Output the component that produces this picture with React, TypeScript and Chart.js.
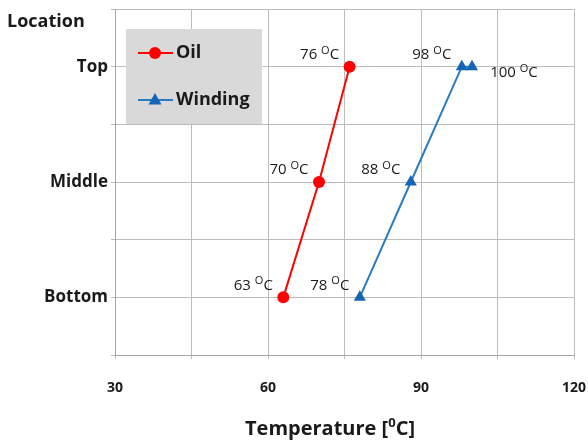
import { useEffect, useRef } from 'react';
import { Chart, registerables } from 'chart.js';
Chart.register(...registerables);

const locations = ['Bottom', 'Middle', 'Top'];
const oilLocations = ['Bottom', 'Middle', 'Top'];
const oilTemps = [63, 70, 76];
const windingLocations = ['Bottom', 'Middle', 'Top', 'Top'];
const windingTemps = [78, 88, 98, 100];
const xTickLabels = [30, 60, 90, 120];
const seriesNames = ['Oil', 'Winding'];

const oilLabelSide = ['left', 'left', 'left'];
const windingLabelSide = ['left', 'left', 'left', 'right'];

const RED = '#ff0000';
const BLUE_LINE = '#2b7bbf';
const BLUE_MARK = '#1565b5';
const FONT = '"Open Sans", "Liberation Sans", sans-serif';
const TEXT = '#1a1a1a';

const locY = (loc: string) => 2 * locations.indexOf(loc) + 1;

function drawTempLabel(ctx: CanvasRenderingContext2D, cx: number, cy: number, v: number) {
  const num = `${v} `;
  ctx.font = `15px ${FONT}`;
  const w1 = ctx.measureText(num).width;
  const wC = ctx.measureText('C').width;
  ctx.font = `11px ${FONT}`;
  const wO = ctx.measureText('O').width;
  const total = w1 + wO + wC;
  let x = cx - total / 2;
  ctx.fillStyle = TEXT;
  ctx.textBaseline = 'middle';
  ctx.textAlign = 'left';
  ctx.font = `15px ${FONT}`;
  ctx.fillText(num, x, cy);
  x += w1;
  ctx.font = `11px ${FONT}`;
  ctx.fillText('O', x, cy - 4);
  x += wO;
  ctx.font = `15px ${FONT}`;
  ctx.fillText('C', x, cy);
}

const zeroPad = (s: any) => {
  s.paddingTop = 0;
  s.paddingBottom = 0;
  s.paddingLeft = 0;
  s.paddingRight = 0;
};

const overlayPlugin = {
  id: 'overlay',
  afterDraw(chart: any) {
    const ctx: CanvasRenderingContext2D = chart.ctx;
    ctx.save();
    // data labels
    const sides = [oilLabelSide, windingLabelSide];
    const vals = [oilTemps, windingTemps];
    [0, 1].forEach((di) => {
      const meta = chart.getDatasetMeta(di);
      meta.data.forEach((pt: any, i: number) => {
        const side = sides[di][i];
        const dx = side === 'left' ? -30 : 42;
        const dy = side === 'left' ? -12 : 6;
        drawTempLabel(ctx, pt.x + dx, pt.y + dy, vals[di][i]);
      });
    });
    // legend box
    ctx.fillStyle = '#d9d9d9';
    ctx.fillRect(126, 29, 136, 95);
    const items = [
      { name: seriesNames[0], y: 53, color: RED, shape: 'circle' },
      { name: seriesNames[1], y: 100, color: BLUE_LINE, shape: 'triangle' },
    ];
    items.forEach((it) => {
      ctx.strokeStyle = it.color;
      ctx.lineWidth = 2;
      ctx.beginPath();
      ctx.moveTo(138, it.y);
      ctx.lineTo(173, it.y);
      ctx.stroke();
      if (it.shape === 'circle') {
        ctx.fillStyle = RED;
        ctx.beginPath();
        ctx.arc(155, it.y, 6, 0, Math.PI * 2);
        ctx.fill();
      } else {
        ctx.fillStyle = BLUE_MARK;
        ctx.beginPath();
        ctx.moveTo(155, it.y - 7);
        ctx.lineTo(161.5, it.y + 4.5);
        ctx.lineTo(148.5, it.y + 4.5);
        ctx.closePath();
        ctx.fill();
      }
      ctx.fillStyle = TEXT;
      ctx.font = `bold 18px ${FONT}`;
      ctx.textAlign = 'left';
      ctx.textBaseline = 'middle';
      ctx.fillText(it.name, 176, it.y);
    });
    // Location label
    ctx.fillStyle = TEXT;
    ctx.font = `bold 18px ${FONT}`;
    ctx.textAlign = 'left';
    ctx.textBaseline = 'middle';
    ctx.fillText('Location', 7, 22);
    // x title
    const t1 = 'Temperature [';
    const t2 = 'C]';
    ctx.font = `bold 20px ${FONT}`;
    const w1 = ctx.measureText(t1).width;
    const w2 = ctx.measureText(t2).width;
    ctx.font = `bold 13px ${FONT}`;
    const w0 = ctx.measureText('0').width;
    let x = 330 - (w1 + w0 + w2) / 2;
    const y = 429;
    ctx.font = `bold 20px ${FONT}`;
    ctx.fillText(t1, x, y);
    x += w1;
    ctx.font = `bold 13px ${FONT}`;
    ctx.fillText('0', x, y - 6);
    x += w0;
    ctx.font = `bold 20px ${FONT}`;
    ctx.fillText(t2, x, y);
    ctx.restore();
  },
};

export default function App() {
  const ref = useRef<HTMLCanvasElement>(null);
  useEffect(() => {
    document.body.style.margin = '0';
    const chart = new Chart(ref.current!, {
      type: 'line',
      data: {
        datasets: [
          {
            label: seriesNames[0],
            data: oilTemps.map((t, i) => ({ x: t, y: locY(oilLocations[i]) })),
            borderColor: RED,
            backgroundColor: RED,
            borderWidth: 2,
            pointStyle: 'circle',
            pointRadius: 6,
            pointBorderWidth: 0,
            tension: 0,
          },
          {
            label: seriesNames[1],
            data: windingTemps.map((t, i) => ({ x: t, y: locY(windingLocations[i]) })),
            borderColor: BLUE_LINE,
            backgroundColor: BLUE_MARK,
            pointBackgroundColor: BLUE_MARK,
            pointBorderColor: BLUE_MARK,
            borderWidth: 2,
            pointStyle: 'triangle',
            pointRadius: 7,
            pointBorderWidth: 0,
            tension: 0,
          },
        ],
      },
      options: {
        animation: false,
        responsive: false,
        maintainAspectRatio: false,
        layout: { padding: { top: 9, right: 14, left: 0, bottom: 0 } },
        plugins: { legend: { display: false }, tooltip: { enabled: false } },
        scales: {
          x: {
            type: 'linear',
            min: 30,
            max: 120,
            ticks: {
              stepSize: 15,
              autoSkip: false,
              maxRotation: 0,
              padding: 21,
              color: TEXT,
              font: { family: FONT, size: 14, weight: 'bold' },
              callback: (v: any) => (xTickLabels.includes(Number(v)) ? String(v) : ''),
            },
            grid: { color: '#bdbdbd', lineWidth: 1, tickLength: 4 },
            border: { color: '#a6a6a6' },
            afterFit: (s: any) => { s.height = 87; zeroPad(s); },
          },
          y: {
            type: 'linear',
            min: 0,
            max: 6,
            ticks: {
              stepSize: 1,
              autoSkip: false,
              padding: 3,
              color: TEXT,
              font: { family: FONT, size: 17, weight: 'bold' },
              callback: (v: any) => {
                const n = Number(v);
                return n % 2 === 1 ? locations[(n - 1) / 2] : '';
              },
            },
            grid: { color: '#bdbdbd', lineWidth: 1, tickLength: 4 },
            border: { color: '#a6a6a6' },
            afterFit: (s: any) => { s.width = 115; zeroPad(s); },
          },
        },
      },
      plugins: [overlayPlugin],
    } as any);
    return () => chart.destroy();
  }, []);
  return (
    <div style={{ position: 'relative', width: 588, height: 442, background: '#fff' }}>
      <canvas ref={ref} width={588} height={442} style={{ width: 588, height: 442 }} />
    </div>
  );
}
